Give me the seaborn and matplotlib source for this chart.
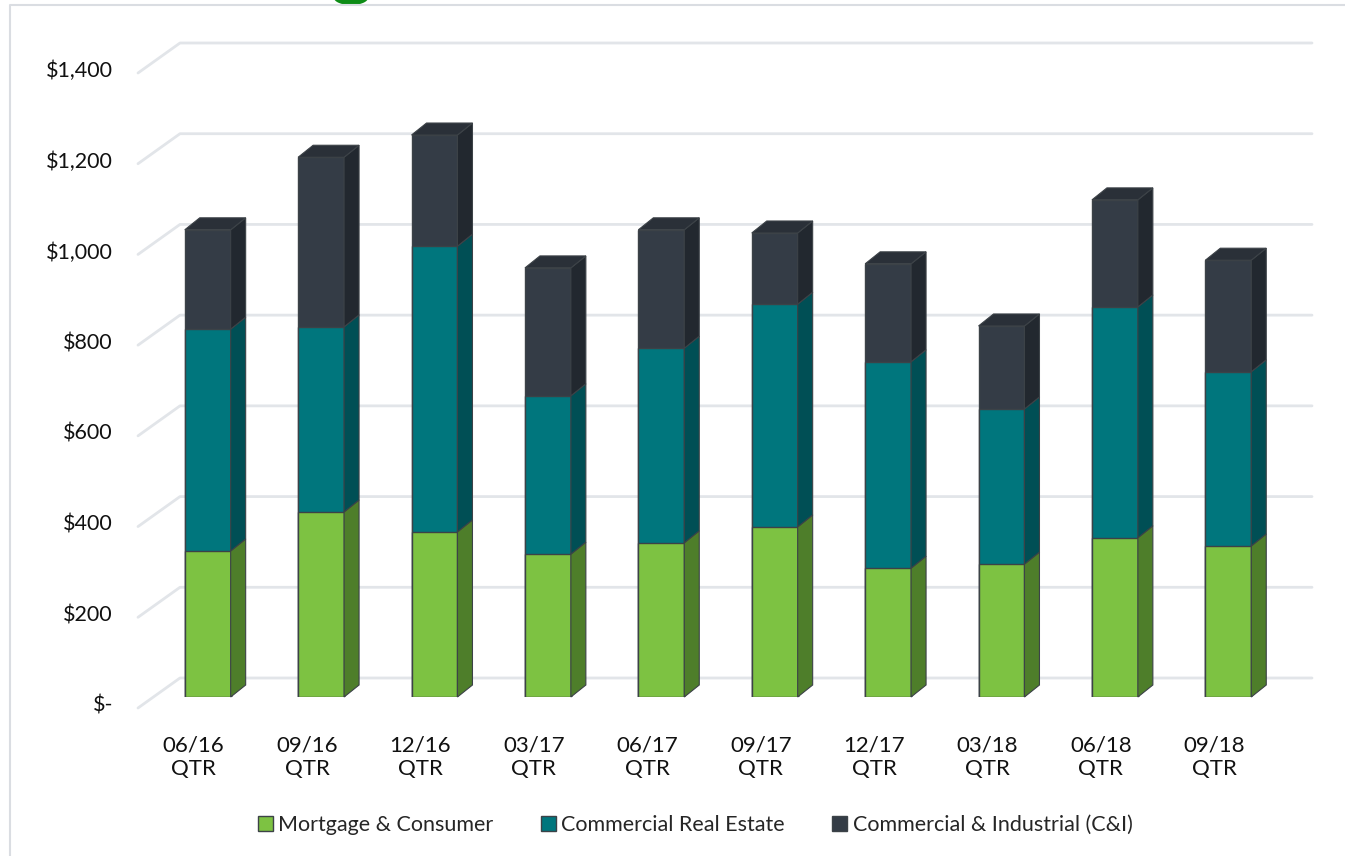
"""
Quarterly loan mix chart: 3D-look stacked bars drawn with seaborn + matplotlib patches.
"""

import numpy as np
import pandas as pd
import matplotlib
matplotlib.use("Agg")
import matplotlib.pyplot as plt
import seaborn as sns
from matplotlib.patches import Polygon, Patch, Ellipse
from matplotlib.lines import Line2D
from matplotlib.transforms import IdentityTransform

# ---- data ($ millions) ----
quarters = ["06/16\nQTR", "09/16\nQTR", "12/16\nQTR", "03/17\nQTR", "06/17\nQTR",
            "09/17\nQTR", "12/17\nQTR", "03/18\nQTR", "06/18\nQTR", "09/18\nQTR"]
mortgage = [322, 408, 364, 315, 340, 375, 284, 293, 351, 333]
cre = [489, 408, 630, 349, 429, 491, 455, 342, 509, 384]
ci = [219, 374, 245, 282, 261, 157, 216, 183, 236, 246]
series_names = ["Mortgage & Consumer", "Commercial Real Estate", "Commercial & Industrial (C&I)"]
y_ticks = [0, 200, 400, 600, 800, 1000, 1200, 1400]
y_tick_labels = ["$-", "$200", "$400", "$600", "$800", "$1,000", "$1,200", "$1,400"]

# colours: front face, side face
front_cols = ["#7DC242", "#00767D", "#343C46"]
side_cols = ["#4E7E2A", "#004F55", "#22282F"]
top_col = "#2A3038"
edge_col = "#3C4247"
grid_col = "#E2E5E9"

W, H, DPI = 1345, 856, 100
BAR_W = 0.405
DEPTH = (15, 12)         # bar depth offset in pixels (right, up)

sns.set_theme(style="white")
plt.rcParams["font.family"] = ["Lato", "DejaVu Sans"]

fig = plt.figure(figsize=(W / DPI, H / DPI), dpi=DPI)
ax = fig.add_axes([151 / W, (H - 697) / H, (1285 - 151) / W, (697 - 62) / H])
ax.set_xlim(-0.5, 9.5)
ax.set_ylim(0, 1400)
ax.set_axis_off()

df = pd.DataFrame({"quarter": quarters, "m": mortgage, "cre": cre, "ci": ci})
layers = np.cumsum(np.array([mortgage, cre, ci]), axis=0)   # top of each segment
df["top_m"] = layers[0]
df["top_cre"] = layers[1]
df["top_ci"] = layers[2]

# front faces: tallest first so lower segments sit on top
for col, c in zip(["top_ci", "top_cre", "top_m"], front_cols[::-1]):
    sns.barplot(data=df, x="quarter", y=col, color=c, width=BAR_W, saturation=1,
                edgecolor=edge_col, linewidth=1, ax=ax, zorder=3)

# side and top faces, built from the data through the axes transform
to_px = ax.transData.transform
dx, dy = DEPTH
bottoms = np.vstack([np.zeros(len(quarters)), layers[:-1]])
for i in range(len(quarters)):
    xr = i + BAR_W / 2
    xl = i - BAR_W / 2
    for k in range(3):
        (x0, y0), (x1, y1) = to_px([(xr, bottoms[k][i]), (xr, layers[k][i])])
        side = Polygon([(x0, y0), (x1, y1), (x1 + dx, y1 + dy), (x0 + dx, y0 + dy)],
                       closed=True, facecolor=side_cols[k], edgecolor=edge_col,
                       linewidth=0.8, transform=IdentityTransform(), zorder=4)
        fig.add_artist(side)
    (ax0, ay0), (ax1, ay1) = to_px([(xl, layers[2][i]), (xr, layers[2][i])])
    top = Polygon([(ax0, ay0), (ax1, ay1), (ax1 + dx, ay1 + dy), (ax0 + dx, ay0 + dy)],
                  closed=True, facecolor=top_col, edgecolor=edge_col, linewidth=0.8,
                  transform=IdentityTransform(), zorder=4)
    fig.add_artist(top)

# back-wall gridlines with the diagonal floor/wall edge on the left
for v, lab in zip(y_ticks, y_tick_labels):
    (lx, ly), (rx, ry) = to_px([(-0.5, v), (9.5, v)])
    pts = [(lx - 13, ly - 11), (lx + 29, ly + 19), (rx + 27, ly + 19)]
    fig.add_artist(Line2D([p[0] for p in pts], [p[1] for p in pts], color=grid_col,
                          linewidth=2, transform=IdentityTransform(), zorder=0))
    ax.annotate(lab, (-0.5, v), xytext=(-38, -9), textcoords="offset pixels",
                ha="right", va="center", fontsize=15.5, color="#111111",
                annotation_clip=False)

# x labels under each bar (sit at the front edge, a little left of the bar face)
for i, q in enumerate(quarters):
    ax.annotate(q, (i, 0), xytext=(-14, -60), textcoords="offset pixels",
                ha="center", va="center", fontsize=16, linespacing=1.25,
                color="#111111", annotation_clip=False)

# legend
handles = [Patch(facecolor=c, edgecolor=edge_col, linewidth=1) for c in front_cols]
fig.legend(handles, series_names, loc="center", bbox_to_anchor=(695 / W, 1 - 825 / H),
           ncol=3, frameon=False, fontsize=15.5, handlelength=0.7, handleheight=0.7,
           handletextpad=0.25, columnspacing=2.2)

# slide frame and the clipped logo mark above it
fig.add_artist(Line2D([10, 10, W], [0, H - 5, H - 5], color="#DADDE2", linewidth=1.5,
                      transform=IdentityTransform()))
fig.add_artist(Ellipse((351, H + 2), 34, 14, facecolor="#0E8C16", edgecolor="none",
                       transform=IdentityTransform()))

fig.savefig("out.png", dpi=DPI)
plt.close(fig)
